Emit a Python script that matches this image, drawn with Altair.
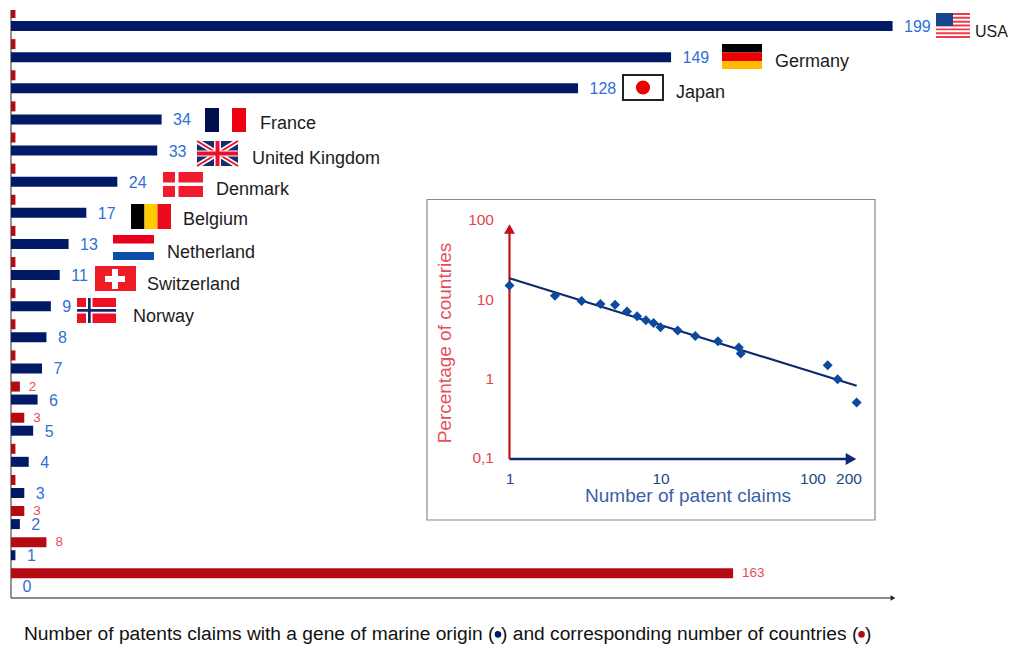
import altair as alt
import pandas as pd

# ---- data ----
claims = [199, 149, 128, 34, 33, 24, 17, 13, 11, 9, 8, 7, 6, 5, 4, 3, 2, 1, 0]
countries = [1, 1, 1, 1, 1, 1, 1, 1, 1, 1, 1, 1, 2, 3, 1, 1, 3, 8, 163]
names = ["USA", "Germany", "Japan", "France", "United Kingdom", "Denmark",
         "Belgium", "Netherland", "Switzerland", "Norway"]

inset_claims = [1, 2, 3, 4, 5, 6, 7, 8, 9, 10, 13, 17, 24, 33, 34, 128, 149, 199]
inset_pct = [15.0, 11.2, 9.6, 8.8, 8.6, 7.1, 6.2, 5.5, 5.1, 4.5, 4.1, 3.5, 3.0, 2.5, 2.1, 1.5, 1.0, 0.51]
trend_claims = [1, 199]
trend_pct = [18.5, 0.83]

caption = "Number of patents claims with a gene of marine origin (•) and corresponding number of countries (•)"

# ---- colours ----
NAVY, RED, BLUE_TXT, RED_TXT = "#001a66", "#b30a14", "#2f6fd6", "#ea4b57"
FONT = "Liberation Sans"

# ---- layout helpers: picture position -> main scale units ----
W, H = 1003, 636
PX_PER_CLAIM, ROW0, ROW_STEP, RED_SHIFT = 4.43, 26, 31.13, 13
ux = lambda p: (p - 11) / PX_PER_CLAIM
uy = lambda p: (p - ROW0) / ROW_STEP
sx = alt.Scale(domain=[ux(8), ux(8 + W)], nice=False, zero=False, padding=0)
sy = alt.Scale(domain=[uy(10 + H), uy(10)], nice=False, zero=False, padding=0)
X = lambda f: alt.X(f, type="quantitative", scale=sx, axis=None)
Y = lambda f: alt.Y(f, type="quantitative", scale=sy, axis=None)

rows = pd.DataFrame({"claims": claims, "countries": countries, "row": range(len(claims))})
rows["red_row"] = rows["row"] - RED_SHIFT / ROW_STEP

blue_bars = alt.Chart(rows[rows.claims > 0]).mark_bar(orient="horizontal", size=10, color=NAVY).encode(
    x=alt.X("claims:Q", scale=sx, axis=None, stack=None), y=Y("row"))
red_bars = alt.Chart(rows).mark_bar(orient="horizontal", size=10, color=RED, clip=True).encode(
    x=alt.X("countries:Q", scale=sx, axis=None, stack=None), y=Y("red_row"))
blue_txt = alt.Chart(rows).mark_text(align="left", dx=11.5, dy=1, font=FONT, fontSize=16, color=BLUE_TXT).encode(
    x=X("claims"), y=Y("row"), text="claims:Q")
red_txt = alt.Chart(rows[rows.countries > 1]).mark_text(align="left", dx=9, font=FONT, fontSize=13.5, color=RED_TXT).encode(
    x=X("countries"), y=Y("red_row"), text="countries:Q")

# ---- flags ----
rects, uk_top, diag, dots = [], [], [], []
def r(x0, y0, x1, y1, c, store=None):
    (rects if store is None else store).append(dict(x=ux(x0), x2=ux(x1), y=uy(y0), y2=uy(y1), c=c))
def d(x0, y0, x1, y1, c, w):
    diag.append(dict(x=ux(x0), x2=ux(x1), y=uy(y0), y2=uy(y1), c=c, w=w))

# USA
r(936, 13, 970, 38, "#ffffff")
for i in range(7):
    r(936, 13 + i * 3.85, 970, 13 + i * 3.85 + 1.95, "#f03a4c")
r(936, 13, 953, 26, "#16468f")
# Germany
r(722, 44, 762, 52.5, "#000000"); r(722, 52.5, 762, 61, "#ee0000"); r(722, 61, 762, 69, "#ffbb00")
# Japan
r(622, 74, 664, 101, "#222222"); r(624, 76, 662, 99, "#ffffff")
dots.append(dict(x=ux(643), y=uy(87.5)))
# France
r(205, 108, 219, 132, "#00104d"); r(232, 108, 246, 132, "#ee0011")
# UK
r(197, 141, 238, 166, "#1a2a6c")
d(197, 141, 238, 166, "#ffffff", 5); d(197, 166, 238, 141, "#ffffff", 5)
d(197, 141, 238, 166, "#e8112d", 2); d(197, 166, 238, 141, "#e8112d", 2)
r(197, 150.5, 238, 156.5, "#ffffff", uk_top); r(214, 141, 221, 166, "#ffffff", uk_top)
r(197, 151.5, 238, 155.5, "#e8112d", uk_top); r(215.5, 141, 219.5, 166, "#e8112d", uk_top)
# Denmark
r(163, 172, 203, 197, "#ee1c2e"); r(175, 172, 178.5, 197, "#ffffff"); r(163, 182.5, 203, 186, "#ffffff")
# Belgium
r(131, 204, 144.5, 229, "#000000"); r(144.5, 204, 157.5, 229, "#ffcc00"); r(157.5, 204, 171, 229, "#ee0a1e")
# Netherlands
r(113, 235, 154, 243.5, "#e8001c"); r(113, 252, 154, 260, "#0c4fa8")
# Switzerland
r(95, 266, 136, 291, "#ee1c25"); r(105, 276, 125, 282, "#ffffff"); r(112, 269, 118, 289, "#ffffff")
# Norway
r(77, 298, 116, 323, "#ee1124"); r(86, 298, 92.5, 323, "#ffffff"); r(77, 307, 116, 313.5, "#ffffff")
r(88, 298, 90.7, 323, "#12286e"); r(77, 309, 116, 311.7, "#12286e")

def rect_layer(items):
    return alt.Chart(pd.DataFrame(items)).mark_rect().encode(
        x=X("x"), x2="x2:Q", y=Y("y"), y2="y2:Q", color=alt.Color("c:N", scale=None))
flag_rects = rect_layer(rects)
flag_cross = rect_layer(uk_top)
flag_diag = alt.Chart(pd.DataFrame(diag)).mark_rule().encode(
    x=X("x"), x2="x2:Q", y=Y("y"), y2="y2:Q", color=alt.Color("c:N", scale=None),
    strokeWidth=alt.StrokeWidth("w:Q", scale=None))
flag_dots = alt.Chart(pd.DataFrame(dots)).mark_point(shape="circle", filled=True, opacity=1, size=200, color="#ee0000").encode(
    x=X("x"), y=Y("y"))

# ---- country names ----
name_df = pd.DataFrame({"name": names,
    "x": [ux(p) for p in [975, 775, 676, 260, 252, 216, 183, 167, 147, 133]],
    "y": [uy(p) for p in [30, 60, 91, 122, 157, 188, 218, 251, 283, 315]],
    "fs": [16, 18, 18, 18, 18, 18, 18, 18, 18, 18]})
name_txt = alt.Chart(name_df).mark_text(align="left", dy=1.5, font=FONT, color="#1c1c1c").encode(
    x=X("x"), y=Y("y"), text="name:N", size=alt.Size("fs:Q", scale=None))

# ---- chart axes ----
ax_df = pd.DataFrame([dict(x=ux(11), x2=ux(11), y=uy(10), y2=uy(598)),
                      dict(x=ux(11), x2=ux(893), y=uy(598), y2=uy(598))])
axes = alt.Chart(ax_df).mark_rule(color="#666666", strokeWidth=1.4).encode(
    x=X("x"), x2="x2:Q", y=Y("y"), y2="y2:Q")
ax_head = alt.Chart(pd.DataFrame([dict(x=ux(893), y=uy(598))])).mark_point(
    shape="triangle-right", filled=True, opacity=1, size=30, color="#222222").encode(x=X("x"), y=Y("y"))

cap = alt.Chart(pd.DataFrame([dict(x=ux(24), y=uy(634), t=caption)])).mark_text(
    align="left", font=FONT, fontSize=19.2, color="#111111").encode(x=X("x"), y=Y("y"), text="t:N")
cap_dots = alt.Chart(pd.DataFrame([dict(x=ux(498), y=uy(634.5), c=NAVY), dict(x=ux(861.5), y=uy(634.5), c=RED)])).mark_point(
    shape="circle", filled=True, opacity=1, size=42).encode(
    x=X("x"), y=Y("y"), color=alt.Color("c:N", scale=None))

box = alt.Chart(pd.DataFrame([dict(x=ux(427), x2=ux(875), y=uy(199.5), y2=uy(520))])).mark_rect(
    fill="#ffffff", stroke="#8a8a8a", strokeWidth=1.2).encode(x=X("x"), x2="x2:Q", y=Y("y"), y2="y2:Q")

main = alt.layer(axes, ax_head, red_bars, blue_bars, blue_txt, red_txt, flag_rects, flag_diag,
                 flag_cross, flag_dots, name_txt, cap, cap_dots, box)

# ---- inset on log scales, anchored to the box ----
DEC_X, DEC_Y, X1, Y01 = 151, 79.7, 509.5, 459
lx = lambda p: 10 ** ((p - X1) / DEC_X)
ly = lambda p: 0.1 * 10 ** ((Y01 - p) / DEC_Y)
slx = alt.Scale(type="log", domain=[lx(8), lx(8 + W)], nice=False)
sly = alt.Scale(type="log", domain=[ly(10 + H), ly(10)], nice=False)
LX = lambda f: alt.X(f, type="quantitative", scale=slx, axis=None)
LY = lambda f: alt.Y(f, type="quantitative", scale=sly, axis=None)

pts = pd.DataFrame({"c": inset_claims, "p": inset_pct})
inset_pts = alt.Chart(pts).mark_point(shape="diamond", filled=True, opacity=1, size=100, color="#0b4a9e").encode(
    x=LX("c"), y=LY("p"))
trend = alt.Chart(pd.DataFrame({"c": trend_claims, "p": trend_pct})).mark_line(color="#0c2a6e", strokeWidth=2.2).encode(
    x=LX("c"), y=LY("p"))
v_ax = alt.Chart(pd.DataFrame([dict(x=1, y=0.1, y2=ly(228))])).mark_rule(color="#c4101c", strokeWidth=2.2).encode(
    x=LX("x"), y=LY("y"), y2="y2:Q")
h_ax = alt.Chart(pd.DataFrame([dict(x=1, x2=lx(850), y=0.1)])).mark_rule(color="#0c2a6e", strokeWidth=2.4).encode(
    x=LX("x"), x2="x2:Q", y=LY("y"))
v_head = alt.Chart(pd.DataFrame([dict(x=1, y=ly(229))])).mark_point(
    shape="triangle-up", filled=True, opacity=1, size=120, color="#c4101c").encode(x=LX("x"), y=LY("y"))
h_head = alt.Chart(pd.DataFrame([dict(x=lx(851), y=0.1)])).mark_point(
    shape="triangle-right", filled=True, opacity=1, size=150, color="#0c2a6e").encode(x=LX("x"), y=LY("y"))

y_ticks = pd.DataFrame({"t": ["100", "10", "1", "0,1"], "y": [ly(p) for p in [220, 300, 379, 458]], "x": lx(494)})
y_txt = alt.Chart(y_ticks).mark_text(align="right", font=FONT, fontSize=15.5, color="#e8434f").encode(
    x=LX("x"), y=LY("y"), text="t:N")
x_ticks = pd.DataFrame({"t": ["1", "10", "100", "200"], "x": [lx(p) for p in [510, 661, 813, 849]], "y": ly(479)})
x_txt = alt.Chart(x_ticks).mark_text(font=FONT, fontSize=15.5, color="#25477f").encode(
    x=LX("x"), y=LY("y"), text="t:N")
x_title = alt.Chart(pd.DataFrame([dict(x=lx(688), y=ly(496), t="Number of patent claims")])).mark_text(
    font=FONT, fontSize=19, color="#3a5fa8").encode(x=LX("x"), y=LY("y"), text="t:N")
y_title = alt.Chart(pd.DataFrame([dict(x=lx(445), y=ly(343), t="Percentage of countries")])).mark_text(
    font=FONT, fontSize=19, angle=270, color="#e2505a").encode(x=LX("x"), y=LY("y"), text="t:N")

inset = alt.layer(h_ax, h_head, v_ax, v_head, trend, inset_pts, y_txt, x_txt, x_title, y_title)

chart = alt.layer(main, inset).resolve_scale(x="independent", y="independent").properties(
    width=W, height=H,
    padding={"left": 0, "top": 2, "right": 0, "bottom": 0},
    autosize=alt.AutoSizeParams(type="none"),
    background="#ffffff",
).configure_view(stroke=None)

chart.save("out.html", embed_options={"renderer": "svg", "actions": False})
